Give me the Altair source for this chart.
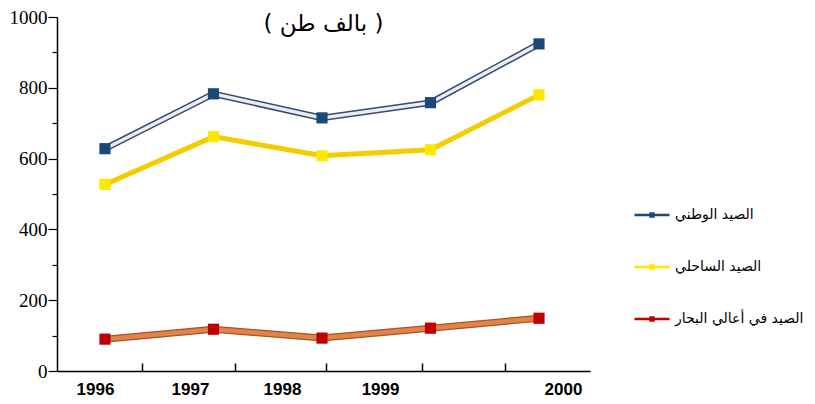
import altair as alt
import pandas as pd

years = [1996, 1997, 1998, 1999, 2000]
series = ["الصيد الوطني", "الصيد الساحلي", "الصيد في أعالي البحار"]
national = [628, 783, 715, 758, 924]
coastal = [527, 662, 608, 625, 780]
high_seas = [90, 118, 93, 121, 149]
title_text = "( بالف طن )"
y_ticks = list(range(0, 1001, 100))

rows = []
for name, vals in zip(series, [national, coastal, high_seas]):
    for yr, v in zip(years, vals):
        rows.append({"year": yr, "value": v, "series": name})
df = pd.DataFrame(rows)

W, H = 533, 354
# axis label / tick placement (axis configuration, hand-drawn original)
label_pos = [1995.908, 1996.783, 1997.631, 1998.535, 2000.221]
tick_pos = [1996.34, 1997.2, 1998.04, 1998.92, 1999.69]
is_label = f"indexof({label_pos}, datum.value) >= 0"

xscale = alt.Scale(domain=[1995.558, 2000.47], nice=False, zero=False)
yscale = alt.Scale(domain=[0, 1000], nice=False)

x_axis = alt.Axis(
    values=label_pos + tick_pos,
    labelExpr=f"{is_label} ? format(round(datum.value), 'd') : ''",
    tickOpacity={"condition": {"test": is_label, "value": 0}, "value": 1},
    tickSize={"expr": "-8"},
    tickColor="black", tickWidth=1.5,
    labelFont="Liberation Sans", labelFontWeight="bold", labelFontSize=17,
    labelColor="black", labelPadding=18, labelOverlap=False, labelFlush=False,
    labelBound=False,
    domainColor="black", domainWidth=1.5, grid=False, title=None,
)
y_axis = alt.Axis(
    values=y_ticks,
    labelExpr="datum.value % 200 === 0 ? format(datum.value, 'd') : ''",
    tickSize={"condition": {"test": "datum.value % 200 === 0", "value": 9}, "value": 5},
    tickColor="black", tickWidth=1.2,
    labelFont="Liberation Serif", labelFontSize=19, labelColor="black",
    labelPadding=1, labelOverlap=False, labelFlush=False,
    domainColor="black", domainWidth=1.5, grid=False, title=None,
)

base = alt.Chart(df).encode(
    x=alt.X("year:Q", scale=xscale, axis=x_axis),
    y=alt.Y("value:Q", scale=yscale, axis=y_axis),
)

def sel(i):
    return base.transform_filter(alt.datum.series == series[i])

blue_outer = sel(0).mark_line(color="#3a4a66", strokeWidth=6.5)
blue_inner = sel(0).mark_line(color="#e6eef8", strokeWidth=3.5)
yellow = sel(1).mark_line(color="#f3cd00", strokeWidth=5)
red_outer = sel(2).mark_line(color="#a9512b", strokeWidth=7)
red_inner = sel(2).mark_line(color="#df8548", strokeWidth=4.5)

legend_path = "M-1.75,-0.12H1.75V0.12H-1.75Z M-0.27,-0.27H0.27V0.27H-0.27Z"

points = base.mark_point(shape="square", filled=True, opacity=1, size=125).encode(
    color=alt.Color(
        "series:N",
        scale=alt.Scale(domain=series, range=["#1c4877", "#ffe800", "#c00000"]),
        legend=alt.Legend(
            title=None, orient="none", legendX=585, legendY=188,
            symbolType=legend_path, symbolSize=400, symbolOpacity=1,
            labelFont="DejaVu Sans", labelFontSize=14, labelColor="black",
            labelLimit=200,
            rowPadding=35, labelOffset=13, symbolStrokeWidth=0,
        ),
    ),
)

chart = alt.layer(blue_outer, blue_inner, yellow, red_outer, red_inner, points).properties(
    width=W, height=H,
    title=alt.Title(title_text, font="DejaVu Sans", fontSize=23, fontWeight="normal",
                    anchor="middle", color="black", offset=-28),
    autosize=alt.AutoSizeParams(type="none"),
    padding={"left": 49, "top": 9, "right": 217, "bottom": 28},
).configure_view(stroke=None)

chart.save("out.html", embed_options={"renderer": "svg", "actions": False})
